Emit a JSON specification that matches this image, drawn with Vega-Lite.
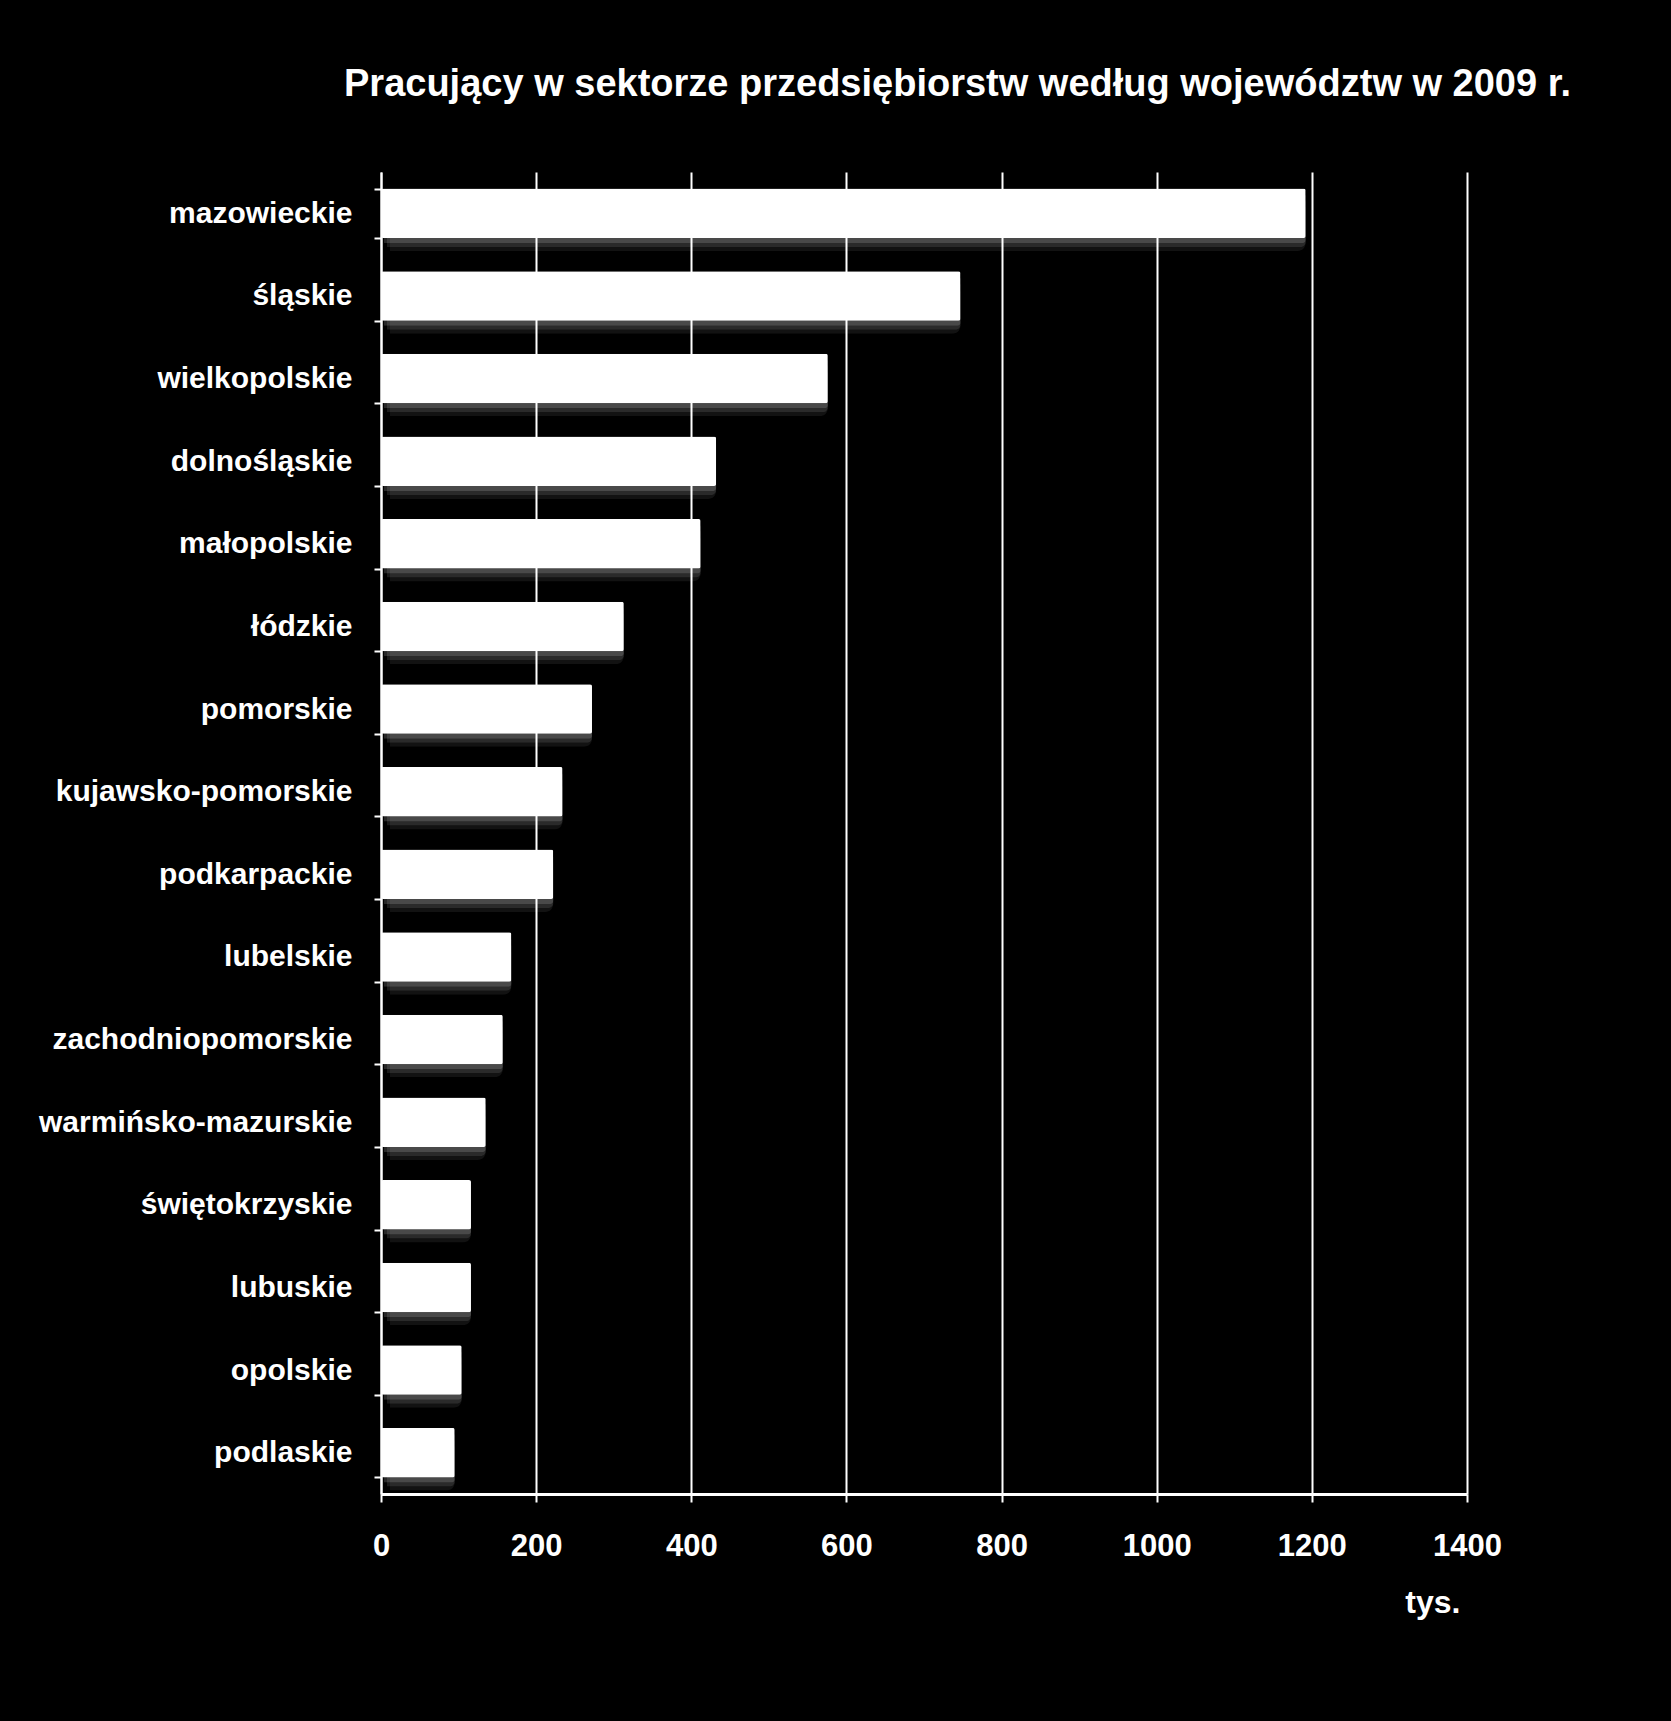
{
  "$schema": "https://vega.github.io/schema/vega-lite/v6.json",
  "autosize": {"type": "none"},
  "padding": {"left": 381, "top": 172, "right": 204, "bottom": 227},
  "width": 1086,
  "height": 1322,
  "background": "#000000",
  "title": {
    "text": "Pracujący w sektorze przedsiębiorstw według województw w 2009 r.",
    "anchor": "start",
    "frame": "group",
    "dx": -37,
    "offset": 23,
    "baseline": "alphabetic",
    "font": "Liberation Sans, Arial",
    "fontSize": 38,
    "fontWeight": "bold",
    "color": "#ffffff"
  },
  "data": {
    "values": [
      {"woj": "mazowieckie", "v": 1192},
      {"woj": "śląskie", "v": 747},
      {"woj": "wielkopolskie", "v": 576},
      {"woj": "dolnośląskie", "v": 432},
      {"woj": "małopolskie", "v": 412},
      {"woj": "łódzkie", "v": 313},
      {"woj": "pomorskie", "v": 272},
      {"woj": "kujawsko-pomorskie", "v": 234},
      {"woj": "podkarpackie", "v": 222},
      {"woj": "lubelskie", "v": 168},
      {"woj": "zachodniopomorskie", "v": 157},
      {"woj": "warmińsko-mazurskie", "v": 135},
      {"woj": "świętokrzyskie", "v": 116},
      {"woj": "lubuskie", "v": 116},
      {"woj": "opolskie", "v": 104},
      {"woj": "podlaskie", "v": 95}
    ]
  },
  "config": {
    "view": {"stroke": null},
    "font": "Liberation Sans, Arial"
  },
  "encoding": {
    "y": {
      "field": "woj",
      "type": "nominal",
      "sort": null,
      "title": null,
      "scale": {"paddingInner": 0.4, "paddingOuter": 0.2},
      "axis": {
        "domainColor": "#ffffff",
        "domainWidth": 2,
        "tickColor": "#ffffff",
        "tickWidth": 2,
        "tickSize": 7,
        "tickBand": "extent",
        "labelColor": "#ffffff",
        "labelFont": "Liberation Sans, Arial",
        "labelFontSize": 30,
        "labelFontWeight": "bold",
        "labelPadding": 22,
        "labelLimit": 600
      }
    },
    "x": {
      "field": "v",
      "type": "quantitative",
      "scale": {"domain": [0, 1400], "nice": false},
      "axis": {
        "values": [0, 200, 400, 600, 800, 1000, 1200, 1400],
        "format": "d",
        "title": "tys.",
        "titleColor": "#ffffff",
        "titleFont": "Liberation Sans, Arial",
        "titleFontSize": 32,
        "titleFontWeight": "bold",
        "titleAnchor": "end",
        "titleAlign": "right",
        "titleX": 1079,
        "titleY": 118,
        "titleBaseline": "alphabetic",
        "domainColor": "#ffffff",
        "domainWidth": 3,
        "tickColor": "#ffffff",
        "tickWidth": 2,
        "tickSize": 8,
        "grid": true,
        "gridColor": "#ffffff",
        "gridWidth": 2,
        "gridOpacity": 1,
        "labelColor": "#ffffff",
        "labelFont": "Liberation Sans, Arial",
        "labelFontSize": 31,
        "labelFontWeight": "bold",
        "labelPadding": 29,
        "labelFlush": false
      }
    }
  },
  "layer": [
    {"mark": {"type": "bar", "color": "#ffffff", "opacity": 0.07, "yOffset": 13, "xOffset": 9, "cornerRadius": 8}},
    {"mark": {"type": "bar", "color": "#ffffff", "opacity": 0.1, "yOffset": 9, "xOffset": 6, "cornerRadius": 5}},
    {"mark": {"type": "bar", "color": "#ffffff", "opacity": 0.15, "yOffset": 5, "xOffset": 3, "cornerRadius": 3}},
    {"mark": {"type": "bar", "color": "#ffffff", "opacity": 1, "cornerRadius": 2}}
  ]
}
